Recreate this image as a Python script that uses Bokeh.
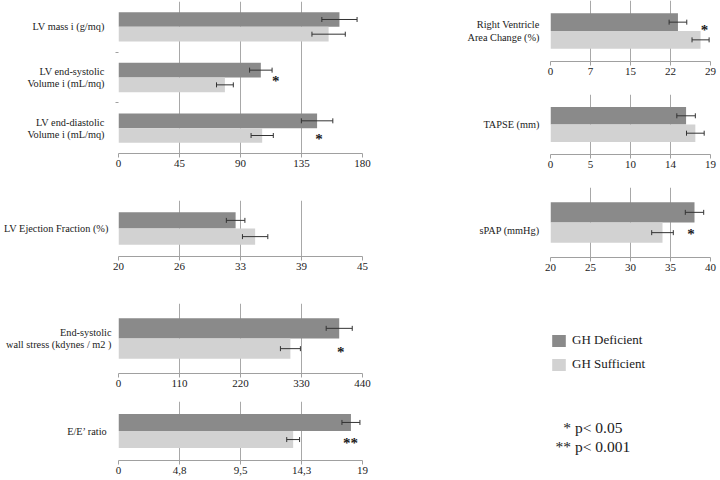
import numpy as np
from bokeh.plotting import figure
from bokeh.models import (ColumnDataSource, Range1d, FixedTicker,
                          Label, Legend, LegendItem)
from bokeh.transform import dodge
from bokeh.layouts import row, column
from bokeh.embed import file_html
from bokeh.resources import INLINE
from bokeh.core.properties import value

# ---------------- data ----------------
series = ["GH Deficient", "GH Sufficient"]

lv_cats = ["LV mass i (g/mq)", "LV end-systolic\nVolume i (mL/mq)", "LV end-diastolic\nVolume i (mL/mq)"]
lv_def = [163.0, 105.0, 146.5]
lv_def_sd = [13.0, 8.3, 11.6]
lv_suf = [155.0, 78.5, 106.0]
lv_suf_sd = [12.3, 6.2, 8.2]
lv_sig = ["", "*", "*"]
lv_ticks = [0, 45, 90, 135, 180]
lv_tick_labels = ["0", "45", "90", "135", "180"]

ef_cats = ["LV Ejection Fraction (%)"]
ef_def = [32.0]
ef_def_sd = [0.95]
ef_suf = [34.0]
ef_suf_sd = [1.3]
ef_sig = [""]
ef_ticks = [20, 26.25, 32.5, 38.75, 45]
ef_tick_labels = ["20", "26", "33", "39", "45"]

ws_cats = ["End-systolic\nwall stress (kdynes / m2 )"]
ws_def = [398.0]
ws_def_sd = [23.5]
ws_suf = [310.0]
ws_suf_sd = [18.0]
ws_sig = ["*"]
ws_ticks = [0, 110, 220, 330, 440]
ws_tick_labels = ["0", "110", "220", "330", "440"]

ee_cats = ["E/E\u2019 ratio"]
ee_def = [18.1]
ee_def_sd = [0.7]
ee_suf = [13.6]
ee_suf_sd = [0.5]
ee_sig = ["**"]
ee_ticks = [0, 4.75, 9.5, 14.25, 19]
ee_tick_labels = ["0", "4,8", "9,5", "14,3", "19"]

rv_cats = ["Right Ventricle\nArea Change (%)"]
rv_def = [23.1]
rv_def_sd = [1.6]
rv_suf = [27.2]
rv_suf_sd = [1.55]
rv_sig = ["*"]
rv_ticks = [0, 7.25, 14.5, 21.75, 29]
rv_tick_labels = ["0", "7", "15", "22", "29"]

tp_cats = ["TAPSE (mm)"]
tp_def = [16.1]
tp_def_sd = [1.1]
tp_suf = [17.2]
tp_suf_sd = [1.05]
tp_sig = [""]
tp_ticks = [0, 4.75, 9.5, 14.25, 19]
tp_tick_labels = ["0", "5", "10", "14", "19"]

sp_cats = ["sPAP (mmHg)"]
sp_def = [38.0]
sp_def_sd = [1.15]
sp_suf = [34.0]
sp_suf_sd = [1.35]
sp_sig = ["*"]
sp_ticks = [20, 25, 30, 35, 40]
sp_tick_labels = ["20", "25", "30", "35", "40"]

sig_notes = ["* p< 0.05", "** p< 0.001"]

# ---------------- style ----------------
DARK = "#8a8a8a"
LIGHT = "#d2d2d2"
GRID = "#a8a8a8"
AXIS = "#a0a0a0"
ERR = "#333333"
TXT = "#1a1a1a"
FONT = "Liberation Serif"
BAR = 0.29


def panel(cats, dv, dsd, sv, ssd, sig, ticks, tick_labels, size, borders,
          sig_specs, label_shift=0.0, center_labels=False, standoff=11):
    w, h = size
    bl, br, bt, bb = borders
    n = len(cats)
    # category slots: first category at the top
    slot = [n - i - 0.5 for i in range(n)]
    xr = Range1d(ticks[0], ticks[-1])
    yr = Range1d(0, n)
    p = figure(width=w, height=h, x_range=xr, y_range=yr, output_backend="svg",
               toolbar_location=None, min_border_left=bl, min_border_right=br,
               min_border_top=bt, min_border_bottom=bb)
    p.outline_line_color = None
    p.ygrid.visible = False
    p.xgrid.ticker = FixedTicker(ticks=ticks)
    p.xgrid.grid_line_color = GRID
    p.xgrid.grid_line_width = 1

    ax = p.xaxis[0]
    ax.ticker = FixedTicker(ticks=ticks)
    ax.major_label_overrides = {t: l for t, l in zip(ticks, tick_labels)}
    ax.axis_line_color = AXIS
    ax.major_tick_line_color = AXIS
    ax.major_tick_in = 0
    ax.major_tick_out = 4
    ax.minor_tick_line_color = None
    ax.major_label_standoff = 2
    ax.major_label_text_font = FONT
    ax.major_label_text_font_size = "11px"
    ax.major_label_text_color = TXT

    # category names on the left axis, small ticks between categories
    ypos = [s + label_shift for s in slot]
    yax = p.yaxis[0]
    yax.ticker = FixedTicker(ticks=ypos, minor_ticks=list(range(1, n)))
    yax.major_label_overrides = {t: c for t, c in zip(ypos, cats)}
    yax.axis_line_color = None
    yax.major_tick_line_color = None
    yax.minor_tick_line_color = AXIS
    yax.minor_tick_in = 0
    yax.minor_tick_out = 3
    yax.major_tick_in = 0
    yax.major_tick_out = 0
    yax.major_label_standoff = standoff
    yax.major_label_text_font = FONT
    yax.major_label_text_font_size = "10.3px"
    yax.major_label_text_color = TXT
    yax.major_label_text_line_height = 1.1
    if center_labels:
        yax.major_label_text_align = "center"

    src = ColumnDataSource(dict(
        cat=cats, slot=slot, d=dv, s=sv,
        dlo=[a - b for a, b in zip(dv, dsd)], dhi=[a + b for a, b in zip(dv, dsd)],
        slo=[a - b for a, b in zip(sv, ssd)], shi=[a + b for a, b in zip(sv, ssd)],
    ))
    y_d = dodge("slot", BAR / 2)
    y_s = dodge("slot", -BAR / 2)
    p.hbar(y=y_d, left=ticks[0], right="d", height=BAR, source=src,
           fill_color=DARK, line_color=None)
    p.hbar(y=y_s, left=ticks[0], right="s", height=BAR, source=src,
           fill_color=LIGHT, line_color=None)
    for lo, hi, yy in (("dlo", "dhi", y_d), ("slo", "shi", y_s)):
        p.segment(x0=lo, y0=yy, x1=hi, y1=yy, source=src, line_color=ERR, line_width=1)
        for end in (lo, hi):
            p.scatter(x=end, y=yy, source=src, marker="dash", angle=np.pi / 2,
                      size=5, line_color=ERR, line_width=1)

    for ys, s, spec in zip(slot, sig, sig_specs):
        if not s:
            continue
        sx, off = spec
        ssrc = ColumnDataSource(dict(slot=[ys], x=[sx], t=[s]))
        p.text(x="x", y=dodge("slot", off), text="t", source=ssrc,
               text_align="center", text_baseline="middle", y_offset=3,
               text_font=value(FONT), text_font_size="15px",
               text_font_style="bold", text_color=TXT)
    return p


f1 = panel(lv_cats, lv_def, lv_def_sd, lv_suf, lv_suf_sd, lv_sig, lv_ticks, lv_tick_labels,
           (380, 180), (115, 18, 1, 27),
           [None, (116, 0.0), (148, -0.145)], center_labels=True)
f2 = panel(ef_cats, ef_def, ef_def_sd, ef_suf, ef_suf_sd, ef_sig, ef_ticks, ef_tick_labels,
           (380, 110), (115, 17, 20, 34), [None], standoff=10)
f3 = panel(ws_cats, ws_def, ws_def_sd, ws_suf, ws_suf_sd, ws_sig, ws_ticks, ws_tick_labels,
           (380, 103), (114, 12, 13, 20), [(400.6, -0.15)], center_labels=True, standoff=7)
f4 = panel(ee_cats, ee_def, ee_def_sd, ee_suf, ee_suf_sd, ee_sig, ee_ticks, ee_tick_labels,
           (380, 87), (114, 16, 8, 20), [(18.06, -0.15)])
f5 = panel(rv_cats, rv_def, rv_def_sd, rv_suf, rv_suf_sd, rv_sig, rv_ticks, rv_tick_labels,
           (340, 85), (133, 8, 0, 24), [(27.9, 0.06)], center_labels=True)
f6 = panel(tp_cats, tp_def, tp_def_sd, tp_suf, tp_suf_sd, tp_sig, tp_ticks, tp_tick_labels,
           (340, 93), (133, 10, 9, 24), [None])
f7 = panel(sp_cats, sp_def, sp_def_sd, sp_suf, sp_suf_sd, sp_sig, sp_ticks, sp_tick_labels,
           (340, 104), (130, 5, 9, 25), [(37.57, -0.12)], label_shift=-0.12)

# legend / notes panel (frame starts where the legend box starts)
f8 = figure(width=340, height=198, x_range=Range1d(170, 340), y_range=Range1d(0, 148),
            output_backend="svg", toolbar_location=None,
            min_border_left=170, min_border_top=50, min_border_right=0, min_border_bottom=0,
            x_axis_location=None, y_axis_location=None)
f8.outline_line_color = None
f8.grid.visible = False
rd = f8.hbar(y=[-50], left=[0], right=[1], height=1, fill_color=DARK, line_color=None)
rs = f8.hbar(y=[-50], left=[0], right=[1], height=1, fill_color=LIGHT, line_color=None)
legend = Legend(items=[LegendItem(label=series[0], renderers=[rd]),
                       LegendItem(label=series[1], renderers=[rs])],
                location="top_left", orientation="vertical",
                glyph_width=17, glyph_height=15, label_height=15, spacing=8,
                label_standoff=5, padding=0, margin=0,
                border_line_color=None, background_fill_alpha=0,
                label_text_font=FONT, label_text_font_size="13px",
                label_text_color=TXT)
f8.add_layout(legend)
for txt, yy in zip(sig_notes, (53, 34)):
    f8.add_layout(Label(x=215, y=yy, text=txt, text_align="center",
                        text_baseline="middle", text_font=FONT,
                        text_font_size="15.5px", text_color=TXT))

layout = row(column(f1, f2, f3, f4), column(f5, f6, f7, f8))

with open("out.html", "w") as fh:
    fh.write(file_html(layout, INLINE))
